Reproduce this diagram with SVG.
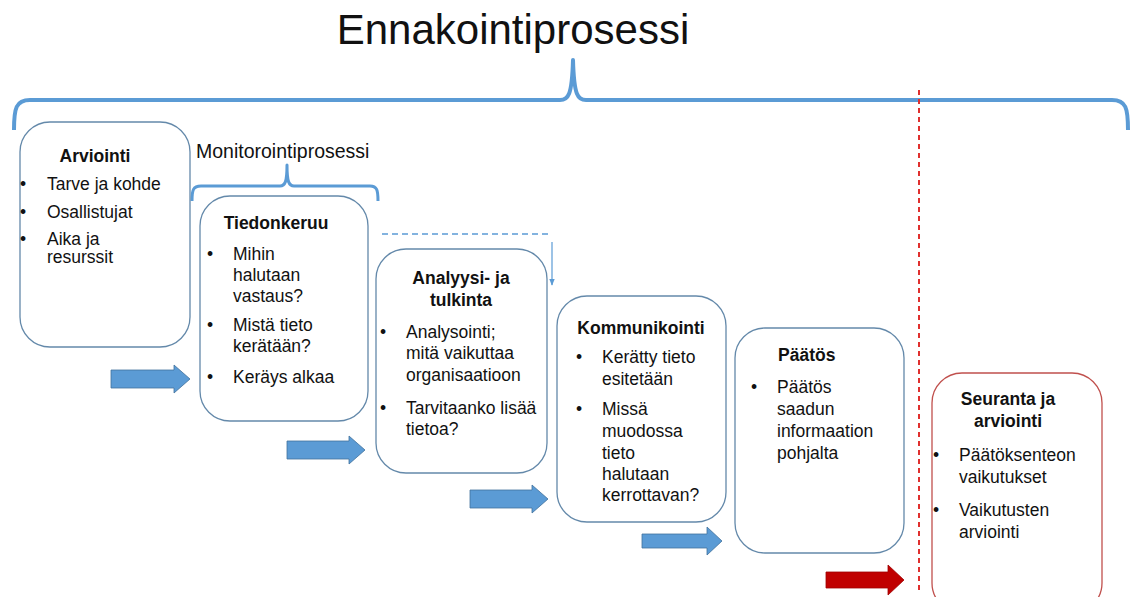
<svg xmlns="http://www.w3.org/2000/svg" width="1135" height="597" viewBox="0 0 1135 597">
<defs>
<style>
text{font-family:"Liberation Sans",Arial,sans-serif;fill:#111;}
.t{font-size:17.5px;}
.h{font-size:17.5px;font-weight:bold;}
.box{fill:#fff;stroke:#6489AA;stroke-width:1.3;}
.rbox{fill:#fff;stroke:#C0504D;stroke-width:1.3;}
.brace{fill:none;stroke:#5B9BD5;stroke-linejoin:round;}
.arr{fill:#5B9BD5;stroke:#41719C;stroke-width:0.8;}
.rarr{fill:#C00000;stroke:#A00000;stroke-width:0.8;}
</style>
<marker id="ah" viewBox="0 0 10 10" refX="9" refY="5" markerWidth="6" markerHeight="6" orient="auto"><path d="M0,1 L10,5 L0,9 z" fill="#5B9BD5"/></marker>
</defs>
<rect width="1135" height="597" fill="#fff"/>
<text x="513" y="44" text-anchor="middle" style="font-size:42px">Ennakointiprosessi</text>
<g id="connectors">
<path class="brace" stroke-width="4" d="M14,130 C14,108 16,100 30,100 L560,100 C568,100 572,96 573,60 C574,96 578,100 586,100 L1112,100 C1126,100 1128,108 1128,130"/>
<path class="brace" stroke-width="3" d="M192,201 C192,190 193,186 201,186 L280,186 C285,186 287,182 287,165 C287,182 289,186 294,186 L370,186 C377,186 378,190 378,201"/>
<line x1="382" y1="234" x2="548" y2="234" stroke="#5B9BD5" stroke-width="1.5" stroke-dasharray="6,4"/>
<line x1="552" y1="242" x2="552" y2="285" stroke="#5B9BD5" stroke-width="1.2" marker-end="url(#ah)"/>
<line x1="919" y1="90" x2="919" y2="592" stroke="#E0302E" stroke-width="2" stroke-dasharray="5,4"/>
<polygon class="arr" points="111,370 174,370 174,365 190,379 174,393 174,388 111,388"/>
<polygon class="arr" points="287,441 349,441 349,436 365,450 349,464 349,459 287,459"/>
<polygon class="arr" points="470,490 532,490 532,485 548,499 532,513 532,508 470,508"/>
<polygon class="arr" points="642,534 707,534 707,527 722,541 707,555 707,548 642,548"/>
<polygon class="rarr" points="826,572 888,572 888,565 904,580 888,595 888,588 826,588"/>
</g>
<text x="196" y="158" style="font-size:19.5px">Monitorointiprosessi</text>
<g id="arviointi">
<rect class="box" x="20" y="122" width="170" height="225" rx="30"/>
<text class="h" x="95" y="162" text-anchor="middle">Arviointi</text>
<text class="t" x="20" y="190">•</text><text class="t" x="47" y="190">Tarve ja kohde</text>
<text class="t" x="20" y="218">•</text><text class="t" x="47" y="218">Osallistujat</text>
<text class="t" x="20" y="245">•</text><text class="t" x="47" y="245">Aika ja</text>
<text class="t" x="47" y="263">resurssit</text>
</g>
<g id="tiedonkeruu">
<rect class="box" x="200" y="196" width="168" height="225" rx="30"/>
<text class="h" x="276" y="229" text-anchor="middle">Tiedonkeruu</text>
<text class="t" x="207" y="260">•</text><text class="t" x="233" y="260">Mihin</text>
<text class="t" x="233" y="281">halutaan</text>
<text class="t" x="233" y="302">vastaus?</text>
<text class="t" x="207" y="331">•</text><text class="t" x="233" y="331">Mistä tieto</text>
<text class="t" x="233" y="352">kerätään?</text>
<text class="t" x="207" y="383">•</text><text class="t" x="233" y="383">Keräys alkaa</text>
</g>
<g id="analyysi">
<rect class="box" x="376" y="249" width="171" height="224" rx="30"/>
<text class="h" x="461" y="284" text-anchor="middle">Analyysi- ja</text>
<text class="h" x="461" y="306" text-anchor="middle">tulkinta</text>
<text class="t" x="380" y="338">•</text><text class="t" x="406" y="338">Analysointi;</text>
<text class="t" x="406" y="359">mitä vaikuttaa</text>
<text class="t" x="406" y="381">organisaatioon</text>
<text class="t" x="380" y="414">•</text><text class="t" x="406" y="414">Tarvitaanko lisää</text>
<text class="t" x="406" y="435">tietoa?</text>
</g>
<g id="kommunikointi">
<rect class="box" x="557" y="296" width="169" height="226" rx="30"/>
<text class="h" x="641" y="334" text-anchor="middle">Kommunikointi</text>
<text class="t" x="576" y="363">•</text><text class="t" x="602" y="363">Kerätty tieto</text>
<text class="t" x="602" y="385">esitetään</text>
<text class="t" x="576" y="415">•</text><text class="t" x="602" y="415">Missä</text>
<text class="t" x="602" y="437">muodossa</text>
<text class="t" x="602" y="459">tieto</text>
<text class="t" x="602" y="480">halutaan</text>
<text class="t" x="602" y="501">kerrottavan?</text>
</g>
<g id="paatos">
<rect class="box" x="735" y="328" width="169" height="225" rx="30"/>
<text class="h" x="778" y="361">Päätös</text>
<text class="t" x="751" y="393">•</text><text class="t" x="777" y="393">Päätös</text>
<text class="t" x="777" y="415">saadun</text>
<text class="t" x="777" y="437">informaation</text>
<text class="t" x="777" y="459">pohjalta</text>
</g>
<g id="seuranta">
<rect class="rbox" x="932" y="373" width="170" height="240" rx="30"/>
<text class="h" x="1008" y="405" text-anchor="middle">Seuranta ja</text>
<text class="h" x="1008" y="427" text-anchor="middle">arviointi</text>
<text class="t" x="933" y="461">•</text><text class="t" x="959" y="461">Päätöksenteon</text>
<text class="t" x="959" y="483">vaikutukset</text>
<text class="t" x="933" y="516">•</text><text class="t" x="959" y="516">Vaikutusten</text>
<text class="t" x="959" y="538">arviointi</text>
</g>
</svg>
